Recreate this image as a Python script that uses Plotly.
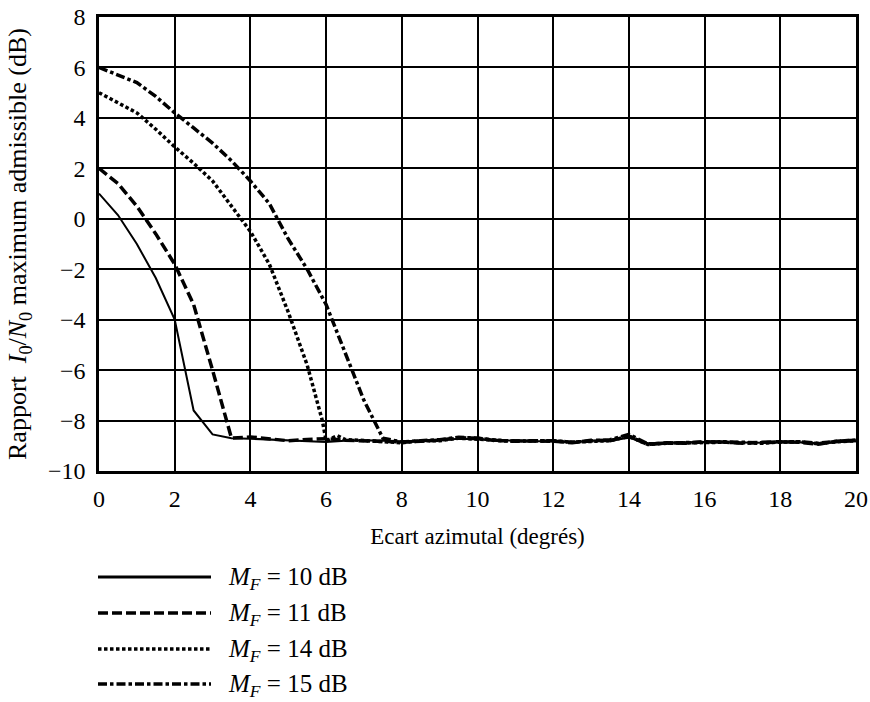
import plotly.graph_objects as go

# ---- data ----
x_tail = [8, 8.5, 9, 9.5, 10, 10.5, 11, 11.5, 12, 12.5, 13, 13.5, 14, 14.5, 15, 15.5, 16, 16.5, 17, 17.5, 18, 18.5, 19, 19.5, 20]

x_10 = [0, 0.5, 1, 1.5, 2, 2.5, 3, 3.5, 4, 4.5, 5, 5.5, 6, 6.5, 7, 7.5] + x_tail
y_10 = [1.0, 0.15, -1.0, -2.35, -4.0, -7.6, -8.55, -8.7, -8.72, -8.75, -8.8, -8.82, -8.85, -8.8, -8.78, -8.8,
        -8.82, -8.8, -8.78, -8.72, -8.75, -8.8, -8.8, -8.82, -8.82, -8.86, -8.8, -8.8, -8.68, -8.9, -8.88, -8.88,
        -8.85, -8.86, -8.88, -8.88, -8.86, -8.86, -8.9, -8.85, -8.82]

x_11 = [0, 0.5, 1, 1.5, 2, 2.5, 3, 3.5, 4, 4.5, 5, 5.5, 6, 6.5, 7, 7.5] + x_tail
y_11 = [2.0, 1.4, 0.5, -0.6, -1.8, -3.4, -6.0, -8.7, -8.65, -8.72, -8.8, -8.75, -8.72, -8.78, -8.8, -8.82,
        -8.85, -8.82, -8.78, -8.68, -8.7, -8.8, -8.8, -8.8, -8.82, -8.88, -8.78, -8.8, -8.62, -8.95, -8.88, -8.9,
        -8.84, -8.85, -8.9, -8.86, -8.84, -8.86, -8.94, -8.82, -8.78]

x_14 = [0, 0.5, 1, 1.5, 2, 2.5, 3, 3.5, 4, 4.5, 5, 5.5, 5.9, 6, 6.3, 6.5, 7, 7.5] + x_tail
y_14 = [5.0, 4.6, 4.2, 3.55, 2.85, 2.2, 1.5, 0.5, -0.5, -1.8, -3.7, -5.8, -8.0, -8.8, -8.6, -8.75, -8.8, -8.82,
        -8.88, -8.8, -8.8, -8.7, -8.75, -8.8, -8.82, -8.8, -8.8, -8.86, -8.82, -8.8, -8.62, -8.95, -8.9, -8.88,
        -8.86, -8.86, -8.88, -8.9, -8.85, -8.84, -8.92, -8.84, -8.8]

x_15 = [0, 0.5, 1, 1.5, 2, 2.5, 3, 3.5, 4, 4.5, 5, 5.5, 6, 6.5, 7, 7.5] + x_tail
y_15 = [6.0, 5.7, 5.4, 4.85, 4.2, 3.6, 3.0, 2.3, 1.5, 0.6, -0.8, -2.0, -3.4, -5.3, -7.2, -8.7,
        -8.85, -8.8, -8.76, -8.66, -8.7, -8.78, -8.82, -8.8, -8.8, -8.86, -8.8, -8.76, -8.55, -8.92, -8.9, -8.86,
        -8.85, -8.84, -8.86, -8.88, -8.85, -8.84, -8.9, -8.82, -8.78]

labels = ["<i>M</i><sub><i>F</i></sub> = 10 dB", "<i>M</i><sub><i>F</i></sub> = 11 dB",
          "<i>M</i><sub><i>F</i></sub> = 14 dB", "<i>M</i><sub><i>F</i></sub> = 15 dB"]
x_ticks = list(range(0, 21, 2))
y_ticks = list(range(-10, 9, 2))

FONT = "Liberation Serif, Times New Roman, serif"
FS_TICK = 24
FS_YT = 26
FS_XT = 23
FS_LEG = 25

series = [
    (x_10, y_10, "solid", 2),
    (x_11, y_11, "10px,4px", 3.5),
    (x_14, y_14, "3.5px,2.5px", 3.5),
    (x_15, y_15, "9px,3px,3.5px,3px", 3.5),
]

fig = go.Figure()
for (xs, ys, dash, w), lab in zip(series, labels):
    fig.add_trace(go.Scatter(x=xs, y=ys, mode="lines", name=lab,
                             line=dict(color="black", width=w, dash=dash),
                             showlegend=False))

# Plot area geometry (pixels) to place the custom legend below the plot
L, R, T, B = 99, 14, 17, 231
W, H = 870, 702
pw = W - L - R
ph = H - T - B

def px_x(px):
    return (px - L) / pw

def px_y(py):
    return (H - B - py) / ph

rows = [577, 613, 649, 684]
leg_w = [3, 3.5, 3.5, 3.5]
for (xs, ys, dash, w), lab, ry, lw in zip(series, labels, rows, leg_w):
    fig.add_shape(type="line", xref="paper", yref="paper",
                  x0=px_x(98), x1=px_x(211), y0=px_y(ry), y1=px_y(ry),
                  line=dict(color="black", width=lw, dash=dash))
    fig.add_annotation(xref="paper", yref="paper", x=px_x(226), y=px_y(ry + 1),
                       xanchor="left", yanchor="middle", showarrow=False,
                       text=lab, font=dict(family=FONT, size=FS_LEG, color="black"))

fig.update_layout(
    template="none",
    width=W, height=H,
    margin=dict(l=L, r=R, t=T, b=B, autoexpand=False),
    paper_bgcolor="white", plot_bgcolor="white",
    font=dict(family=FONT, size=FS_TICK, color="black"),
    xaxis=dict(range=[0, 20], tickvals=x_ticks, ticktext=[str(v) for v in x_ticks],
               automargin=False,
               showgrid=True, gridcolor="black", gridwidth=2,
               showline=True, linecolor="black", linewidth=2.5, mirror=True,
               ticks="outside", ticklen=4, tickcolor="rgba(0,0,0,0)", zeroline=False,
               tickfont=dict(family=FONT, size=FS_TICK),
               title=dict(text="Ecart azimutal (degrés)", standoff=18,
                          font=dict(family=FONT, size=FS_XT))),
    yaxis=dict(range=[-10, 8], tickvals=y_ticks,
               ticktext=[("\u2212" + str(-v)) if v < 0 else str(v) for v in y_ticks],
               automargin=False,
               showgrid=True, gridcolor="black", gridwidth=2,
               showline=True, linecolor="black", linewidth=2.5, mirror=True,
               ticks="outside", ticklen=6, tickcolor="rgba(0,0,0,0)", zeroline=False,
               tickfont=dict(family=FONT, size=FS_TICK),
               title=dict(text="Rapport  <i>I</i><sub>0</sub>/<i>N</i><sub>0</sub> maximum admissible (dB)",
                          standoff=14, font=dict(family=FONT, size=FS_YT))),
)

fig.write_html("out.html", config={"displayModeBar": False},
               post_script="document.body.style.margin='0';document.body.style.padding='0';")
